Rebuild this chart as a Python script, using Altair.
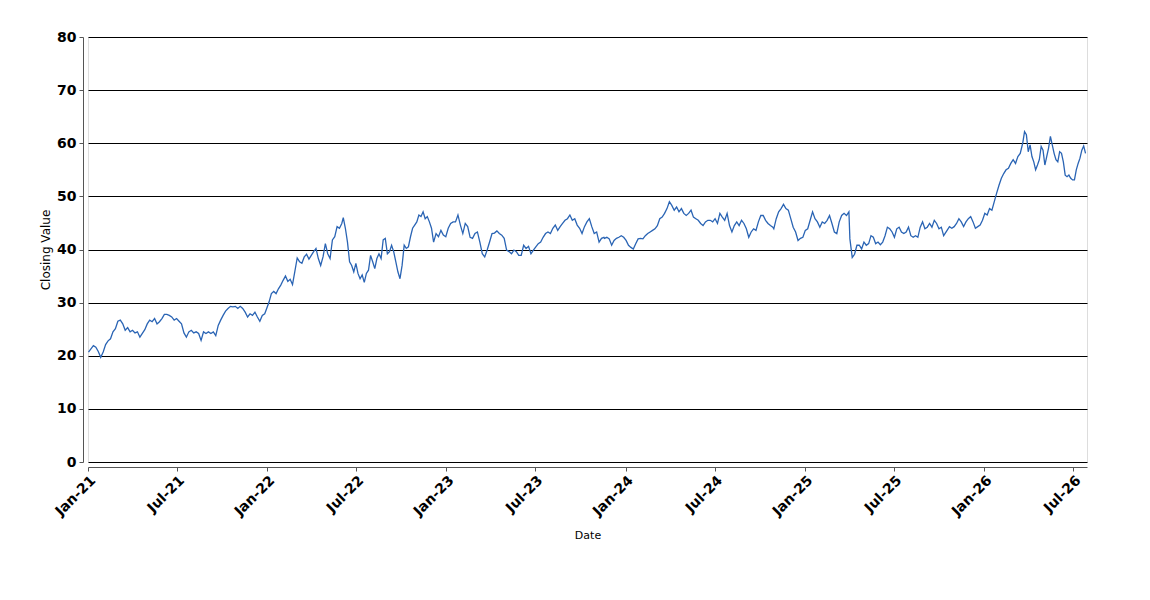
import altair as alt
import pandas as pd

# Segments of closing values (start date, end date, values)
seg1_dates = ("2021-01-02", "2021-12-27")
seg1_values = [20.7, 21.3, 21.9, 21.6, 20.8, 19.7, 20.7, 22.1, 22.8, 23.2, 24.5, 25.1, 26.5, 26.7, 26.0,
               24.8, 25.3, 24.5, 24.8, 24.3, 24.5, 23.5, 24.2, 24.9, 26.0, 26.7, 26.4, 27.0, 26.0, 26.4,
               27.0, 27.8, 27.8, 27.6, 27.3, 26.7, 27.0, 26.5, 26.0, 24.3, 23.5, 24.5, 24.8, 24.3, 24.5,
               24.2, 22.9, 24.5, 24.2, 24.5, 24.2, 24.5, 23.8, 25.7, 26.7, 27.6, 28.4, 28.9, 29.3, 29.2,
               29.3, 28.9, 29.3, 28.9, 28.2, 27.3, 27.9, 27.6, 28.2, 27.3, 26.5, 27.6, 27.9]

seg2a_dates = ("2021-12-31", "2022-06-02")
seg2a_values = [28.9, 30.1, 31.7, 32.1, 31.7, 32.6, 33.3, 34.2, 35.0, 34.0, 34.4, 33.4, 35.9, 38.4, 37.7,
                37.4, 38.6, 39.1, 38.2, 38.9, 39.6, 40.2, 38.3, 37.0, 38.6, 41.1, 39.2, 38.3, 41.8, 42.4,
                44.3, 44.0, 44.9]

seg2b_dates = ("2022-06-05", "2022-12-06")
seg2b_values = [46.0, 44.0, 41.4, 37.7, 37.0, 35.8, 37.4, 35.5, 34.5, 35.2, 33.8, 35.5, 36.1, 38.9, 37.7,
                36.4, 38.3, 39.2, 38.3, 41.8, 42.1, 39.2, 39.6, 40.8, 39.6, 37.7, 35.8, 34.5, 37.0, 40.8,
                40.2, 40.5, 42.4, 44.0, 44.6, 45.2, 46.5, 46.2, 47.1, 45.8, 46.2, 45.2, 44.0, 41.4]

seg3_dates = ("2022-12-11", "2023-11-18")
seg3_values = [43.0, 42.4, 43.6, 42.7, 42.4, 44.0, 44.9, 45.2, 45.2, 46.5, 44.6, 43.0, 44.9, 44.3, 42.3,
               42.1, 43.0, 43.3, 41.4, 39.2, 38.6, 39.9, 41.4, 43.0, 43.1, 43.5, 43.0, 42.7, 42.1, 39.9,
               39.6, 39.2, 39.9, 39.6, 38.9, 38.9, 40.8, 40.2, 40.6, 39.2, 39.9, 40.5, 41.1, 41.4, 42.3,
               43.0, 43.3, 43.0, 44.0, 44.6, 43.6, 44.3, 44.9, 45.5, 45.8, 46.5, 45.5, 45.8, 44.6, 44.0,
               43.0, 44.3, 45.2, 45.8, 44.3, 43.0, 43.3, 41.4, 42.1, 42.3]

seg4_dates = ("2023-11-19", "2024-10-27")
seg4_values = [42.1, 42.3, 42.0, 40.8, 41.7, 42.1, 42.3, 42.6, 42.3, 41.7, 40.8, 40.4, 40.1, 41.1, 42.0,
               42.1, 42.0, 42.6, 43.0, 43.3, 43.6, 43.9, 44.5, 45.8, 46.1, 46.8, 47.7, 49.0, 48.3, 47.4,
               48.0, 47.1, 47.7, 46.8, 46.4, 46.8, 47.4, 46.1, 45.8, 45.5, 44.9, 44.5, 45.2, 45.5, 45.5,
               45.2, 45.8, 44.9, 46.8, 46.1, 45.5, 46.8, 44.5, 43.3, 44.5, 45.2, 44.5, 45.5, 44.9, 43.9,
               42.3, 43.3, 43.9, 43.6, 45.2, 46.4, 46.4, 45.5, 44.9, 44.5, 44.2]

seg5a_dates = ("2024-10-29", "2025-03-31")
seg5a_values = [43.9, 45.8, 47.1, 47.7, 48.5, 47.7, 47.4, 45.8, 44.2, 43.3, 41.7, 42.1, 42.3, 43.6, 43.9,
                45.5, 47.1, 45.8, 45.2, 44.2, 45.2, 44.9, 45.5, 46.4, 44.9, 43.3, 43.0, 45.2, 46.4, 46.8,
                46.4, 47.1]

seg5b_dates = ("2025-04-02", "2025-10-10")
seg5b_values = [42.0, 38.5, 39.1, 40.8, 40.8, 40.1, 41.4, 40.8, 41.1, 42.6, 42.3, 41.1, 41.4, 40.9, 41.4,
                42.6, 44.2, 43.9, 43.3, 42.3, 43.9, 44.2, 43.3, 43.0, 43.3, 44.2, 42.6, 42.3, 42.6, 42.3,
                44.2, 45.2, 43.9, 44.2, 44.9, 44.2, 45.5, 44.9, 43.9, 44.2, 42.6]

seg6a_dates = ("2025-10-17", "2026-03-15")
seg6a_values = [43.6, 44.3, 44.0, 44.3, 44.9, 45.8, 45.2, 44.3, 45.2, 45.8, 46.2, 45.2, 44.0, 44.3, 44.6,
                45.5, 46.8, 46.5, 47.7, 47.4, 49.0, 50.6, 52.1, 53.4, 54.3, 55.0, 55.3, 56.2, 56.9, 56.2,
                57.5, 58.1]

seg6b_dates = ("2026-03-20", "2026-07-26")
seg6b_values = [60.0, 62.2, 61.6, 58.4, 59.7, 57.5, 56.5, 55.0, 55.9, 56.9, 59.4, 58.7, 55.9, 57.5, 59.1,
                61.3, 59.7, 58.1, 56.9, 56.5, 58.4, 58.1, 56.5, 54.0, 53.7, 54.0, 53.4, 53.1, 53.1, 55.0,
                56.2, 57.2, 58.7, 59.5, 58.1]

segments = [
    (seg1_dates, seg1_values), (seg2a_dates, seg2a_values), (seg2b_dates, seg2b_values),
    (seg3_dates, seg3_values), (seg4_dates, seg4_values), (seg5a_dates, seg5a_values),
    (seg5b_dates, seg5b_values), (seg6a_dates, seg6a_values), (seg6b_dates, seg6b_values),
]

frames = []
for (start, end), vals in segments:
    dates = pd.date_range(start, end, periods=len(vals))
    frames.append(pd.DataFrame({"date": dates, "value": vals}))
df = pd.concat(frames, ignore_index=True)
df["date"] = df["date"].dt.strftime("%Y-%m-%dT%H:%M:%S")

tick_years = [2021, 2022, 2023, 2024, 2025, 2026]
x_ticks = []
for yr in tick_years:
    x_ticks.append(alt.DateTime(year=yr, month=1, date=1))
    x_ticks.append(alt.DateTime(year=yr, month=7, date=1))
y_ticks = [0, 10, 20, 30, 40, 50, 60, 70, 80]

FONT = "DejaVu Sans"

chart = alt.Chart(df).mark_line(color="#2a64b4", strokeWidth=1.3).encode(
    x=alt.X("date:T", title="Date",
            scale=alt.Scale(domain=[alt.DateTime(year=2021, month=1, date=1),
                                    alt.DateTime(year=2026, month=7, date=29)]),
            axis=alt.Axis(values=x_ticks, format="%b-%y", labelAngle=-45, offset=5, grid=False,
                          labelFont=FONT, labelFontSize=14, labelFontWeight="bold", labelColor="#000",
                          titleFont=FONT, titleFontSize=11, titleFontWeight="normal", titleColor="#000",
                          titlePadding=11, tickSize=4, tickColor="#555", domainColor="#555",
                          labelPadding=2)),
    y=alt.Y("value:Q", title="Closing Value",
            scale=alt.Scale(domain=[0, 80], nice=False, zero=True),
            axis=alt.Axis(values=y_ticks, offset=5, grid=True, gridColor="#000", gridWidth=1, gridOpacity=1,
                          labelFont=FONT, labelFontSize=14, labelFontWeight="bold", labelColor="#000",
                          titleFont=FONT, titleFontSize=12, titleFontWeight="normal", titleColor="#000",
                          titlePadding=4, tickSize=4, tickColor="#555", domainColor="#555",
                          labelPadding=3)),
).properties(
    width=999, height=425,
    autosize=alt.AutoSizeParams(type="none"),
    padding={"left": 80, "top": 29, "right": 40, "bottom": 110},
).configure_view(stroke="#555", strokeWidth=1).configure(background="white")

chart.save("out.html", embed_options={"renderer": "svg", "actions": False})
